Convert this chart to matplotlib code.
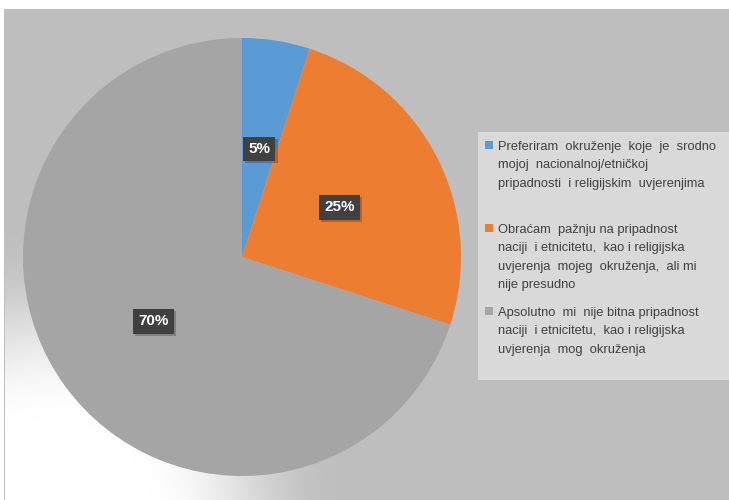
import numpy as np
import matplotlib
matplotlib.use("Agg")
import matplotlib.pyplot as plt
from matplotlib.patches import Rectangle
import matplotlib.patheffects as pe

plt.rcParams['font.family'] = ['Liberation Sans', 'DejaVu Sans']

# data
values = [5, 25, 70]
colors = ['#5b9bd5', '#ed7d31', '#a5a5a5']
labels = [
    "Preferiram  okruženje  koje  je  srodno\nmojoj  nacionalnoj/etničkoj\npripadnosti  i religijskim  uvjerenjima",
    "Obraćam  pažnju na pripadnost\nnaciji  i etnicitetu,  kao i religijska\nuvjerenja  mojeg  okruženja,  ali mi\nnije presudno",
    "Apsolutno  mi  nije bitna pripadnost\nnaciji  i etnicitetu,  kao i religijska\nuvjerenja  mog  okruženja",
]

W, H = 729, 500
fig = plt.figure(figsize=(W / 100, H / 100), dpi=100)
ax = fig.add_axes([0, 0, 1, 1])

# background: gray plot area with white glow in lower-left corner
yy, xx = np.mgrid[0:H, 0:W]
d = np.hypot(xx - 50, yy - 520)
t = np.clip((d - 100) / (290 - 100), 0, 1)
t = t * t * (3 - 2 * t)
bg = 1.0 * (1 - t) + 0.749 * t
bg[yy < 9] = 1.0
bg[xx < 4] = 1.0
bg[(xx >= 4) & (xx < 5) & (yy >= 9)] = 0.75
img = np.dstack([bg, bg, bg])
ax.imshow(img, extent=(0, W, 0, H), origin='upper', zorder=0, aspect='auto')

cx, cy, r = 242, H - 257, 219
wedges, _, autotexts = ax.pie(values, colors=colors, startangle=90, counterclock=False,
                              center=(cx, cy), radius=r, autopct='%1.0f%%',
                              pctdistance=0.5, wedgeprops=dict(linewidth=0),
                              textprops=dict(color='white', fontsize=11, fontweight='bold'))
for w in wedges:
    w.set_zorder(2)
for at in autotexts:
    at.set_zorder(4)
    at.set_bbox(dict(boxstyle='square,pad=0.35', facecolor='#404040', edgecolor='none'))
    at.get_bbox_patch().set_path_effects([pe.SimplePatchShadow(offset=(1.5, -1.5), alpha=0.25), pe.Normal()])

# legend box
ax.add_patch(Rectangle((478, H - 380), W - 478, 248, facecolor='#d9d9d9', edgecolor='none', zorder=3))
first_y = [147, 230, 313]
for lab, col, y0 in zip(labels, colors, first_y):
    ax.add_patch(Rectangle((485, H - y0 - 1.5), 8, 8, facecolor=col, edgecolor='none', zorder=4))
    for i, line in enumerate(lab.split('\n')):
        ax.text(498, H - y0 - i * 18.3, line, fontsize=9.3, color='#404040',
                va='center', ha='left', zorder=5)

ax.set_xlim(0, W)
ax.set_ylim(0, H)
ax.set_aspect('auto')
ax.axis('off')

fig.savefig('out.png', dpi=100)
